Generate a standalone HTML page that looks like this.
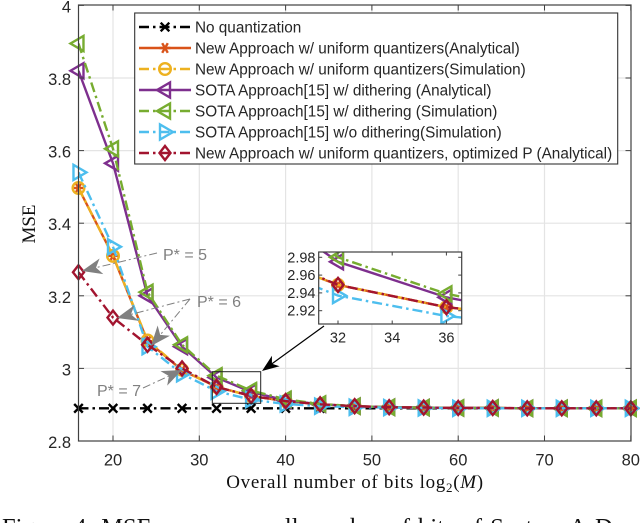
<!DOCTYPE html>
<html>
<head>
<meta charset="utf-8">
<style>
html,body{margin:0;padding:0;background:#fff;width:640px;height:523px;overflow:hidden}
svg{display:block;position:absolute;left:0;top:0;filter:blur(0.35px)}
text{font-family:"Liberation Sans",sans-serif;fill:#262626}
.serif{font-family:"Liberation Serif",serif;fill:#111}
</style>
</head>
<body>
<svg id="chart" width="640" height="523" viewBox="0 0 640 523" xmlns="http://www.w3.org/2000/svg">
<defs>
<clipPath id="main-clip"><rect x="78.5" y="5" width="552.5" height="436"/></clipPath>
<clipPath id="inset-clip"><rect x="318.7" y="252" width="143" height="72"/></clipPath>
</defs>
</svg>
<script>
var bits = [16,20,24,28,32,36,40,44,48,52,56,60,64,68,72,76,80];
var noQuant = [2.89,2.89,2.89,2.89,2.89,2.89,2.89,2.89,2.89,2.89,2.89,2.89,2.89,2.89,2.89,2.89,2.89];
var newAnalytical = [3.497,3.31,3.075,2.995,2.949,2.924,2.91,2.901,2.896,2.893,2.892,2.891,2.891,2.89,2.89,2.89,2.89];
var newSimulation = [3.497,3.31,3.077,2.996,2.949,2.924,2.91,2.901,2.896,2.893,2.892,2.891,2.891,2.89,2.89,2.89,2.89];
var sotaAnalytical = [3.82,3.565,3.2,3.06,2.975,2.935,2.912,2.901,2.896,2.893,2.892,2.891,2.891,2.89,2.89,2.89,2.89];
var sotaSimulation = [3.895,3.605,3.21,3.065,2.98,2.939,2.915,2.902,2.896,2.893,2.892,2.891,2.891,2.89,2.89,2.89,2.89];
var sotaNoDither = [3.54,3.335,3.06,2.985,2.937,2.914,2.902,2.896,2.893,2.892,2.891,2.89,2.89,2.89,2.89,2.89,2.89];
var newOptimized = [3.265,3.14,3.065,3.0,2.949,2.924,2.91,2.901,2.896,2.893,2.892,2.891,2.891,2.89,2.89,2.89,2.89];
var xTicks = [20,30,40,50,60,70,80];
var yTicks = [2.8,3,3.2,3.4,3.6,3.8,4];
var yTickLabels = ['2.8','3','3.2','3.4','3.6','3.8','4'];
var insetXTicks = [32,34,36];
var insetYTicks = [2.92,2.94,2.96,2.98];
var insetYTickLabels = ['2.92','2.94','2.96','2.98'];
var legendLabels = [
  'No quantization',
  'New Approach w/ uniform quantizers(Analytical)',
  'New Approach w/ uniform quantizers(Simulation)',
  'SOTA Approach[15] w/ dithering (Analytical)',
  'SOTA Approach[15] w/ dithering (Simulation)',
  'SOTA Approach[15] w/o dithering(Simulation)',
  'New Approach w/ uniform quantizers, optimized P (Analytical)'
];

var svg = document.getElementById('chart');
var NS = 'http://www.w3.org/2000/svg';
var LW = 2.4;
function mk(tag, attrs, parent, txt) {
  var e = document.createElementNS(NS, tag);
  for (var k in attrs) e.setAttribute(k, attrs[k]);
  if (txt !== undefined) e.textContent = txt;
  (parent || svg).appendChild(e);
  return e;
}
function X(v) { return 113 + (v - 20) * 8.63; }
function Y(v) { return 441 - (v - 2.8) * 363; }
function IX(v) { return 338 + (v - 32) * 27.1; }
function IY(v) { return 257.3 + (2.98 - v) * 890; }

var series = [
  {name:'no-quantization', values:noQuant, color:'#000000', dash:'10 4 2.5 4', marker:'x'},
  {name:'new-analytical', values:newAnalytical, color:'#D95319', dash:'', marker:'star'},
  {name:'new-simulation', values:newSimulation, color:'#EDB120', dash:'10 4 2.5 4', marker:'circle'},
  {name:'sota-analytical', values:sotaAnalytical, color:'#7E2F8E', dash:'', marker:'left'},
  {name:'sota-simulation', values:sotaSimulation, color:'#77AC30', dash:'10 4 2.5 4', marker:'left'},
  {name:'sota-no-dither', values:sotaNoDither, color:'#4DBEEE', dash:'10 4 2.5 4', marker:'right'},
  {name:'new-optimized', values:newOptimized, color:'#A2142F', dash:'10 4 2.5 4', marker:'diamond'}
];

function drawMarker(g, type, x, y, color) {
  var s = {fill:'none', stroke:color, 'stroke-width':LW};
  function line(a,b,c,d){ var o={x1:x+a,y1:y+b,x2:x+c,y2:y+d,stroke:color,'stroke-width':LW}; mk('line',o,g); }
  if (type === 'x') { line(-4.3,-4.3,4.3,4.3); line(-4.3,4.3,4.3,-4.3); }
  else if (type === 'star') { line(-5.5,0,5.5,0); line(-2.8,-4.8,2.8,4.8); line(-2.8,4.8,2.8,-4.8); }
  else if (type === 'circle') { s.cx=x; s.cy=y; s.r=5.8; mk('circle',s,g); }
  else if (type === 'left') { s.points=(x-8)+','+y+' '+(x+5)+','+(y-7.5)+' '+(x+5)+','+(y+7.5); mk('polygon',s,g); }
  else if (type === 'right') { s.points=(x+8)+','+y+' '+(x-5)+','+(y-7.5)+' '+(x-5)+','+(y+7.5); mk('polygon',s,g); }
  else if (type === 'diamond') { s.points=x+','+(y-7)+' '+(x+5.5)+','+y+' '+x+','+(y+7)+' '+(x-5.5)+','+y; mk('polygon',s,g); }
}

/* main grid */
var grid = mk('g', {});


xTicks.forEach(function (t) { if (t < 80) mk('line', {x1:X(t),x2:X(t),y1:5,y2:441,stroke:'#e4e4e4','stroke-width':1.2}, grid); });
yTicks.forEach(function (t) { if (t > 2.8 && t < 4) mk('line', {x1:78.5,x2:631,y1:Y(t),y2:Y(t),stroke:'#e4e4e4','stroke-width':1.2}, grid); });

/* series */
series.forEach(function (s) {
  var g = mk('g', {});
  
  
  var pts = bits.map(function (b, i) { return X(b) + ',' + Y(s.values[i]); }).join(' ');
  var attrs = {points:pts, fill:'none', stroke:s.color, 'stroke-width':LW, 'clip-path':'url(#main-clip)'};
  if (s.dash) attrs['stroke-dasharray'] = s.dash;
  mk('polyline', attrs, g);
  bits.forEach(function (b, i) { drawMarker(g, s.marker, X(b), Y(s.values[i]), s.color); });
});

/* axes box and ticks */
var axes = mk('g', {});


mk('rect', {x:78.5,y:5,width:552.5,height:436,fill:'none',stroke:'#404040','stroke-width':1.2}, axes);
xTicks.forEach(function (t) {
  mk('line', {x1:X(t),x2:X(t),y1:441,y2:435.5,stroke:'#404040','stroke-width':1}, axes);
  mk('line', {x1:X(t),x2:X(t),y1:5,y2:10.5,stroke:'#404040','stroke-width':1}, axes);
});
yTicks.forEach(function (t) {
  mk('line', {x1:78.5,x2:84,y1:Y(t),y2:Y(t),stroke:'#404040','stroke-width':1}, axes);
  mk('line', {x1:631,x2:625.5,y1:Y(t),y2:Y(t),stroke:'#404040','stroke-width':1}, axes);
});
xTicks.forEach(function (t) {
  var e = mk('text', {x:X(t),y:465.5,'text-anchor':'middle','font-size':16.5}, svg, String(t));
  
  
});
yTicks.forEach(function (t, i) {
  var e = mk('text', {x:71,y:Y(t)+7,'text-anchor':'end','font-size':16.5}, svg, yTickLabels[i]);
  
  
});

/* axis titles */
var xt = mk('text', {x:355,y:488,'text-anchor':'middle','font-size':19,'letter-spacing':'0.7px','class':'serif'});


mk('tspan', {}, xt, 'Overall number of bits log');
mk('tspan', {dy:4,'font-size':13}, xt, '2');
mk('tspan', {dy:-4}, xt, '(');
mk('tspan', {'font-style':'italic'}, xt, 'M');
mk('tspan', {}, xt, ')');
var yt = mk('text', {x:0,y:0,'text-anchor':'middle','font-size':19,'class':'serif',transform:'translate(35,224) rotate(-90)'}, svg, 'MSE');



/* legend */
var lg = mk('g', {});


mk('rect', {x:134.7,y:13,width:483,height:151,fill:'#fff',stroke:'#333','stroke-width':1.1}, lg);
series.forEach(function (s, i) {
  var y = 27 + i * 21;
  var row = mk('g', {}, lg);
  
  
  var a = {x1:139,x2:191,y1:y,y2:y,stroke:s.color,'stroke-width':LW};
  if (s.dash) a['stroke-dasharray'] = s.dash;
  mk('line', a, row);
  drawMarker(row, s.marker, 165, y, s.color);
  mk('text', {x:195,y:y+5.5,'font-size':15.3}, row, legendLabels[i]);
});

/* zoom source box */
var zb = mk('rect', {x:212.3,y:371.7,width:48.4,height:31.6,fill:'none',stroke:'#222','stroke-width':1});



/* inset */
var inset = mk('g', {});


mk('rect', {x:318.7,y:252,width:143,height:72,fill:'#fff'}, inset);
var insetData = mk('g', {'clip-path':'url(#inset-clip)'}, inset);
series.forEach(function (s) {
  if (s.marker === 'x') return;
  var g = mk('g', {}, insetData);
  
  
  var pts = bits.map(function (b, i) { return IX(b) + ',' + IY(s.values[i]); }).join(' ');
  var attrs = {points:pts, fill:'none', stroke:s.color, 'stroke-width':LW};
  if (s.dash) attrs['stroke-dasharray'] = s.dash;
  mk('polyline', attrs, g);
  bits.forEach(function (b, i) {
    if (b >= 32 && b <= 36) drawMarker(g, s.marker, IX(b), IY(s.values[i]), s.color);
  });
});
mk('rect', {x:318.7,y:252,width:143,height:72,fill:'none',stroke:'#404040','stroke-width':1.2}, inset);
insetXTicks.forEach(function (t) {
  mk('line', {x1:IX(t),x2:IX(t),y1:324,y2:320.5,stroke:'#404040','stroke-width':1}, inset);
  mk('line', {x1:IX(t),x2:IX(t),y1:252,y2:255.5,stroke:'#404040','stroke-width':1}, inset);
  var e = mk('text', {x:IX(t),y:342.5,'text-anchor':'middle','font-size':14.5}, inset, String(t));
  
  
});
insetYTicks.forEach(function (t, i) {
  mk('line', {x1:318.7,x2:322.2,y1:IY(t),y2:IY(t),stroke:'#404040','stroke-width':1}, inset);
  mk('line', {x1:461.7,x2:458.2,y1:IY(t),y2:IY(t),stroke:'#404040','stroke-width':1}, inset);
  var e = mk('text', {x:315.5,y:IY(t)+5,'text-anchor':'end','font-size':14.5}, inset, insetYTickLabels[i]);
  
  
});

/* annotation arrows */
function arrow(name, x1, y1, x2, y2, color, dash, len, hw, sw) {
  var g = mk('g', {});
  
  
  var dx = x2 - x1, dy = y2 - y1, d = Math.sqrt(dx * dx + dy * dy), ux = dx / d, uy = dy / d;
  var a = {x1:x1,y1:y1,x2:x2-ux*len*0.6,y2:y2-uy*len*0.6,stroke:color,'stroke-width':sw};
  if (dash) a['stroke-dasharray'] = dash;
  mk('line', a, g);
  var bx = x2 - ux * len, by = y2 - uy * len, nx = x2 - ux * len * 0.72, ny = y2 - uy * len * 0.72;
  mk('polygon', {points:x2+','+y2+' '+(bx-uy*hw)+','+(by+ux*hw)+' '+nx+','+ny+' '+(bx+uy*hw)+','+(by-ux*hw), fill:color}, g);
}
var grey = '#808080';
arrow('p5-arrow', 157, 253, 82, 271, grey, '8 3 2 3', 20, 8, 1);
arrow('p6-arrow-upper', 190, 299, 117, 318, grey, '8 3 2 3', 20, 8, 1);
arrow('p6-arrow-lower', 190, 299, 151, 346, grey, '8 3 2 3', 20, 8, 1);
arrow('p7-arrow', 143, 388, 182, 370, grey, '8 3 2 3', 20, 8, 1);
arrow('zoom-arrow', 324, 326, 262, 371, '#000', '', 17, 6.5, 1.2);

var notes = [['p5-label',163,260,'P* = 5'],['p6-label',197,307,'P* = 6'],['p7-label',97,396,'P* = 7']];
notes.forEach(function (n) {
  var e = mk('text', {x:n[1],y:n[2],'font-size':16,style:'fill:#808080'}, svg, n[3]);
  
  
});

var cap = mk('text', {x:2,y:535,'font-size':24.5,'class':'serif','word-spacing':'2px'}, svg, 'Figure 4: MSE versus overall number of bits of System A-D');


</script>
</body>
</html>
